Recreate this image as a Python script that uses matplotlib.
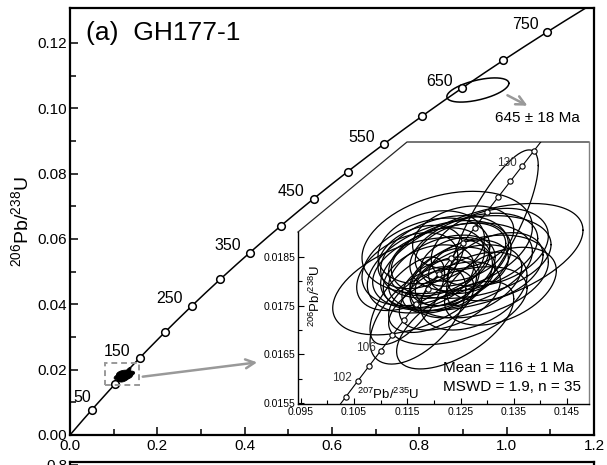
import numpy as np
import matplotlib
matplotlib.use("Agg")
import matplotlib.pyplot as plt
from matplotlib.patches import Polygon, Rectangle
from matplotlib.lines import Line2D

plt.rcParams['font.family'] = ['Liberation Sans', 'DejaVu Sans']
plt.rcParams['mathtext.fontset'] = 'custom'
plt.rcParams['mathtext.rm'] = 'Liberation Sans'
plt.rcParams['mathtext.it'] = 'Liberation Sans:italic'

# Decay constants (per year) for the concordia curve
L238 = 1.55125e-10
L235 = 9.8485e-10

# Age ticks on the concordia (Ma)
main_ages = [50, 100, 150, 200, 250, 300, 350, 400, 450, 500, 550, 600, 650, 700, 750]
main_labels = [50, 150, 250, 350, 450, 550, 650, 750]
inset_ages = [100, 102, 104, 106, 108, 110, 112, 114, 116, 118, 120, 122, 124, 126,
              128, 130, 132]
inset_labels = [102, 106, 130]

# Zircon analyses: 207Pb/235U, 206Pb/238U, 2-sigma half widths, error correlation
ell_x = [0.1235, 0.1290, 0.1160, 0.1225, 0.1170, 0.1240, 0.1275, 0.1215, 0.1205,
         0.1260, 0.1190, 0.1230, 0.1285, 0.1175, 0.1250, 0.1210, 0.1265, 0.1195,
         0.1225, 0.1240, 0.1305, 0.1150, 0.1220, 0.1275, 0.1195, 0.1255, 0.1315,
         0.1185, 0.1235, 0.1310, 0.1270, 0.1210, 0.1150, 0.1325, 0.1245]
ell_y = [0.0183, 0.0185, 0.0179, 0.0188, 0.0173, 0.0171, 0.0186, 0.0182, 0.0184,
         0.0180, 0.0181, 0.0177, 0.0181, 0.0185, 0.0186, 0.0179, 0.0183, 0.0187,
         0.0180, 0.0184, 0.0187, 0.0182, 0.0185, 0.0178, 0.0176, 0.0189, 0.0183,
         0.0184, 0.0181, 0.0191, 0.0185, 0.0183, 0.0176, 0.0179, 0.0175]
ell_sx = [0.0150, 0.0190, 0.0150, 0.0160, 0.0090, 0.0110, 0.0120, 0.0100, 0.0090,
          0.0105, 0.0085, 0.0095, 0.0130, 0.0080, 0.0085, 0.0070, 0.0075, 0.0100,
          0.0060, 0.0065, 0.0110, 0.0095, 0.0120, 0.0100, 0.0080, 0.0095, 0.0090,
          0.0120, 0.0080, 0.0086, 0.0150, 0.0135, 0.0070, 0.0105, 0.0130]
ell_sy = [0.00090, 0.00110, 0.00100, 0.00105, 0.00100, 0.00090, 0.00080, 0.00075,
          0.00070, 0.00075, 0.00065, 0.00070, 0.00085, 0.00065, 0.00060, 0.00055,
          0.00055, 0.00075, 0.00050, 0.00050, 0.00080, 0.00080, 0.00085, 0.00080,
          0.00065, 0.00065, 0.00070, 0.00090, 0.00060, 0.00160, 0.00085, 0.00095,
          0.00090, 0.00080, 0.00080]
ell_rho = [0.35, 0.50, 0.45, 0.30, 0.55, 0.60, 0.35, 0.40, 0.30, 0.40, 0.35, 0.45,
           0.35, 0.30, 0.30, 0.35, 0.30, 0.25, 0.35, 0.30, 0.30, 0.40, 0.30, 0.40,
           0.45, 0.25, 0.35, 0.35, 0.35, 0.80, 0.30, 0.40, 0.65, 0.40, 0.45]

# Inherited grain
old_x, old_y, old_sx, old_sy, old_rho = 0.934, 0.1056, 0.071, 0.0037, 0.55


def concordia(t_ma):
    t = np.asarray(t_ma, dtype=float) * 1e6
    return np.exp(L235 * t) - 1, np.exp(L238 * t) - 1


def ellipse(cx, cy, sx, sy, rho, n=150):
    a = np.linspace(0, 2 * np.pi, n)
    x = cx + sx * np.cos(a)
    y = cy + sy * (rho * np.cos(a) + np.sqrt(1 - rho ** 2) * np.sin(a))
    return x, y


W, H = 607, 465
fig = plt.figure(figsize=(W / 100, H / 100), dpi=100)

# ---- main concordia panel ----
ax = fig.add_axes([70 / W, 1 - 435 / H, 524 / W, 427 / H])
ax.set_xlim(0, 1.2)
ax.set_ylim(0, 0.1307)

cx, cy = concordia(np.linspace(0, 830, 400))
ax.plot(cx, cy, color='k', lw=1.1, zorder=3)
mx, my = concordia(main_ages)
ax.plot(mx, my, 'o', ms=5.5, mfc='white', mec='k', mew=1.1, zorder=4)
for age in main_labels:
    px, py = concordia(age)
    off = (-7, 9) if age == 50 else (-16, 5)
    ax.annotate(str(age), (px, py), xytext=off, textcoords='offset points',
                ha='center', va='center', fontsize=11.5)

# young zircon cluster shown as a black blob
for i in range(len(ell_x)):
    ex, ey = ellipse(ell_x[i], ell_y[i], ell_sx[i], ell_sy[i], ell_rho[i])
    ax.fill(ex, ey, color='k', lw=0.6, zorder=2)
ax.add_patch(Rectangle((0.080, 0.0153), 0.078, 0.0067, fill=False, ec='0.6',
                       lw=1.4, ls=(0, (3, 2)), zorder=5))
ax.annotate('', xy=(0.435, 0.02234), xytext=(0.1603, 0.01775),
            arrowprops=dict(arrowstyle='->', color='0.6', lw=1.8, mutation_scale=16))

# inherited grain
ox, oy = ellipse(old_x, old_y, old_sx, old_sy, old_rho)
ax.plot(ox, oy, color='k', lw=1.1, zorder=3)
ax.annotate('', xy=(1.0533, 0.1004), xytext=(0.9961, 0.10438),
            arrowprops=dict(arrowstyle='->', color='0.6', lw=1.8, mutation_scale=16))
ax.text(1.0694, 0.0970, '645 ± 18 Ma', ha='center', va='center', fontsize=11)

ax.text(0.0305, 0.941, '(a)  GH177-1', transform=ax.transAxes, ha='left',
        va='center', fontsize=19)
ax.set_ylabel(r'$^{206}$Pb/$^{238}$U', fontsize=14, labelpad=4)

ax.set_xticks(np.arange(0, 1.21, 0.2))
ax.set_xticks(np.arange(0.1, 1.2, 0.2), minor=True)
ax.set_yticks(np.arange(0, 0.121, 0.02))
ax.set_yticks(np.arange(0.01, 0.13, 0.02), minor=True)
ax.xaxis.set_major_formatter(plt.FormatStrFormatter('%.1f'))
ax.yaxis.set_major_formatter(plt.FormatStrFormatter('%.2f'))
ax.tick_params(which='both', direction='in', width=1.1, labelsize=11)
ax.tick_params(which='major', length=6)
ax.tick_params(which='minor', length=4)
ax.tick_params(axis='x', pad=3)
ax.tick_params(axis='y', pad=2)
for s in ax.spines.values():
    s.set_linewidth(1.6)

# ---- inset: zoom on the young population ----
ix0, ix1 = 0.09448, 0.14913
iy0, iy1 = 0.01548, 0.020863
ax_in = fig.add_axes([298 / W, 1 - 404 / H, 291 / W, 262 / H])
ax_in.set_xlim(ix0, ix1)
ax_in.set_ylim(iy0, iy1)
ax_in.patch.set_visible(False)
cut_x, cut_y = (407 - 298) / 291, (404 - 232) / 262
frame = [(0, 0), (1, 0), (1, 1), (cut_x, 1), (0, cut_y)]
bg = Polygon(frame, closed=True, transform=ax_in.transAxes, fc='white', ec='none',
             zorder=0)
ax_in.add_patch(bg)
ax_in.add_line(Line2D([0, cut_x, 1], [cut_y, 1, 1], transform=ax_in.transAxes,
                      color='0.15', lw=0.9, clip_on=False))
ax_in.add_line(Line2D([1, 1], [0, 1], transform=ax_in.transAxes,
                      color='0.5', lw=1.0, clip_on=False))
for k in ('top', 'right'):
    ax_in.spines[k].set_visible(False)
ax_in.spines['left'].set_bounds(iy0, iy0 + cut_y * (iy1 - iy0))
for s in ('left', 'bottom'):
    ax_in.spines[s].set_linewidth(1.0)

for i in range(len(ell_x)):
    ex, ey = ellipse(ell_x[i], ell_y[i], ell_sx[i], ell_sy[i], ell_rho[i])
    ln, = ax_in.plot(ex, ey, color='k', lw=0.9, zorder=2)
    ln.set_clip_path(bg)

icx, icy = concordia(np.linspace(95, 137, 200))
ln, = ax_in.plot(icx, icy, color='k', lw=0.8, zorder=3)
ln.set_clip_path(bg)
imx, imy = concordia(inset_ages)
ax_in.plot(imx, imy, 'o', ms=3.8, mfc='white', mec='k', mew=0.8, zorder=4)
for age in inset_labels:
    px, py = concordia(age)
    ax_in.annotate(str(age), (px, py), xytext=(-11, 2), textcoords='offset points',
                   ha='center', va='center', fontsize=8.5, color='0.2')

ax_in.text(0.12171, 0.016219, 'Mean = 116 ± 1 Ma', ha='left', va='center', fontsize=11)
ax_in.text(0.12171, 0.015829, 'MSWD = 1.9, n = 35', ha='left', va='center', fontsize=11)
ax_in.text(0.1115, 0.01568, r'$^{207}$Pb/$^{235}$U', ha='center', va='center',
           fontsize=9.5)
ax_in.text(0.0978, 0.0177, r'$^{206}$Pb/$^{238}$U', ha='center', va='center',
           fontsize=9.5, rotation=90)

ax_in.set_xticks(np.arange(0.095, 0.146, 0.01))
ax_in.set_xticks(np.arange(0.100, 0.146, 0.01), minor=True)
ax_in.set_yticks(np.arange(0.0155, 0.0186, 0.001))
ax_in.set_yticks(np.arange(0.0160, 0.0186, 0.001), minor=True)
ax_in.xaxis.set_major_formatter(plt.FormatStrFormatter('%.3f'))
ax_in.yaxis.set_major_formatter(plt.FormatStrFormatter('%.4f'))
ax_in.tick_params(which='both', direction='in', width=0.8, labelsize=7.5, pad=2)
ax_in.tick_params(which='major', length=4)
ax_in.tick_params(which='minor', length=3)

# ---- top edge of the panel below ----
ax2 = fig.add_axes([70 / W, -0.3, 524 / W, 0.3 + 3.5 / H])
ax2.set_ylim(0, 0.82)
ax2.set_xlim(0, 1.2)
ax2.set_yticks([0.8])
ax2.yaxis.set_major_formatter(plt.FormatStrFormatter('%.1f'))
ax2.set_xticks([])
ax2.tick_params(direction='in', labelsize=11, width=1.1, length=6, pad=2)
for s in ax2.spines.values():
    s.set_linewidth(1.6)

fig.savefig('out.png', dpi=100)
